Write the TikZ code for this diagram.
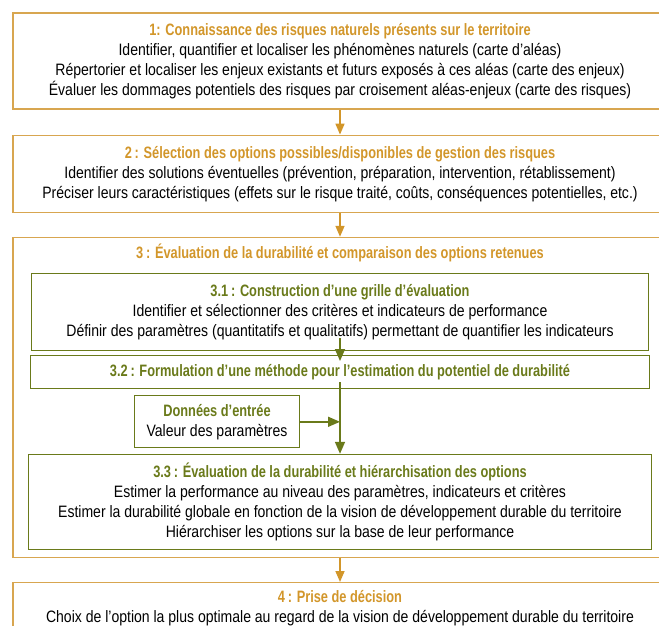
\documentclass[tikz,border=0pt]{standalone}
\usepackage{fontspec}
\setmainfont{Liberation Sans}[FakeStretch=0.85, BoldFeatures={FakeStretch=0.775}]
\usetikzlibrary{positioning,arrows.meta}

\definecolor{gold}{RGB}{210,150,42}
\definecolor{goldline}{RGB}{216,166,80}
\definecolor{olive}{RGB}{106,122,26}
\newcommand{\goldhead}[1]{\textcolor{gold}{\bfseries #1}}
\newcommand{\olivehead}[1]{\textcolor{olive}{\bfseries #1}}

\begin{document}
\begin{tikzpicture}[x=1pt,y=1pt,
    every node/.style={font=\fontsize{16.5}{20}\selectfont, align=center, inner sep=0pt},
    outerbox/.style={draw=goldline, line width=1.2pt, minimum width=654pt},
    innerbox/.style={draw=olive, line width=1.2pt},
    goldarrow/.style={draw=gold, line width=1.6pt, -{Triangle[length=11pt,width=9pt]}},
    olivearrow/.style={draw=olive, line width=1.6pt, -{Triangle[length=12pt,width=10pt]}}]
    \useasboundingbox (0,0) rectangle (659,-626);

    \node[outerbox, minimum height=96pt] (Knowledge) at (340,-61) {%
      \goldhead{1: Connaissance des risques naturels présents sur le territoire}\\
      Identifier, quantifier et localiser les phénomènes naturels (carte d’aléas)\\
      Répertorier et localiser les enjeux existants et futurs exposés à ces aléas (carte des enjeux)\\
      Évaluer les dommages potentiels des risques par croisement aléas-enjeux (carte des risques)%
    };
    \node[outerbox, minimum height=77pt, below={25pt of Knowledge}] (Selection) {%
      \goldhead{2\,: Sélection des options possibles/disponibles de gestion des risques}\\
      Identifier des solutions éventuelles (prévention, préparation, intervention, rétablissement)\\
      Préciser leurs caractéristiques (effets sur le risque traité, coûts, conséquences potentielles, etc.)%
    };
    \node[outerbox, minimum height=320pt, below={24pt of Selection}] (Evaluation) {};
    \node[anchor=base] (EvalTitle) at ([yshift=-22pt]Evaluation.north) {%
      \goldhead{3\,: Évaluation de la durabilité et comparaison des options retenues}%
    };
    \node[outerbox, minimum height=52pt, below={24pt of Evaluation}] (Decision) {%
      \goldhead{4\,: Prise de décision}\\
      Choix de l’option la plus optimale au regard de la vision de développement durable du territoire%
    };

    \node[innerbox, minimum width=617pt, minimum height=77pt,
      below={36pt of Evaluation.north}] (Grid) {%
      \olivehead{3.1\,: Construction d’une grille d’évaluation}\\
      Identifier et sélectionner des critères et indicateurs de performance\\
      Définir des paramètres (quantitatifs et qualitatifs) permettant de quantifier les indicateurs%
    };
    \node[innerbox, minimum width=619pt, minimum height=33pt,
      below={4pt of Grid}] (Method) {%
      \olivehead{3.2\,: Formulation d’une méthode pour l’estimation du potentiel de durabilité}%
    };
    \node[innerbox, minimum width=165pt, minimum height=52pt,
      below right={6pt and 104pt of Method.south west}] (InputData) {%
      \olivehead{Données d’entrée}\\
      Valeur des paramètres%
    };
    \node[innerbox, minimum width=623pt, minimum height=95pt,
      above={8pt of Evaluation.south}] (Ranking) {%
      \olivehead{3.3\,: Évaluation de la durabilité et hiérarchisation des options}\\
      Estimer la performance au niveau des paramètres, indicateurs et critères\\
      Estimer la durabilité globale en fonction de la vision de développement durable du territoire\\
      Hiérarchiser les options sur la base de leur performance%
    };

    \draw[goldarrow] (Knowledge.south) -- (Selection.north);
    \draw[goldarrow] (Selection.south) -- (Evaluation.north);
    \draw[goldarrow] (Evaluation.south) -- (Decision.north);
    \draw[olivearrow] ([yshift=13pt]Grid.south) -- ([yshift=-6pt]Method.north);
    \draw[olivearrow] ([yshift=7pt]Method.south) -- (Ranking.north);
    \draw[olivearrow] (InputData.east) -- (InputData.east -| Method.south);
  \end{tikzpicture}
\end{document}
